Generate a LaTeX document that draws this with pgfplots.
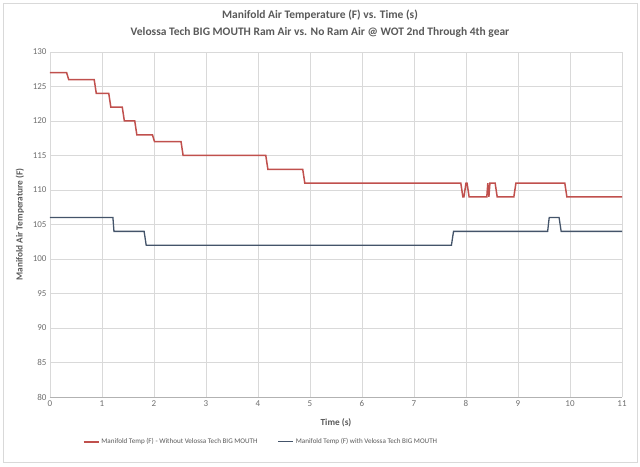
\documentclass[border=0pt]{standalone}
\usepackage{pgfplots}
\pgfplotsset{compat=1.18}
\usepackage{fontspec}
\setmainfont{Carlito}
\definecolor{redl}{RGB}{192,80,77}
\definecolor{bluel}{RGB}{68,84,106}
\definecolor{txt}{RGB}{89,89,89}
\definecolor{ticktxt}{RGB}{110,110,110}
\definecolor{gridc}{RGB}{217,217,217}
\begin{document}
\begin{tikzpicture}
\begin{axis}[
  name=ax,
  scale only axis,
  width=572pt, height=345pt,
  xmin=0, xmax=11, ymin=80, ymax=130,
  xtick={0,1,...,11}, ytick={80,85,...,130},
  grid=major,
  major grid style={draw=gridc, line width=0.6pt},
  axis line style={draw=none},
  major tick length=0pt,
  tick label style={font=\fontsize{9}{10}\selectfont, text=ticktxt},
  /pgf/number format/assume math mode=true,
  xlabel={\textbf{Time (s)}},
  ylabel={\textbf{Manifold Air Temperature (F)}},
  label style={font=\fontsize{9.3}{10}\selectfont, text=txt},
  xlabel style={at={(axis description cs:0.5,0)}, anchor=center, yshift=-26pt},
  ylabel style={at={(axis description cs:0,0.5)}, anchor=center, yshift=30pt},
  legend style={at={(0.369,-0.13)}, anchor=center, draw=none, fill=none,
    legend columns=2, font=\fontsize{7.1}{8}\selectfont, text=txt,
    /tikz/every even column/.append style={column sep=18pt}},
  legend image code/.code={\draw[#1] (0pt,0pt) -- (15pt,0pt);},
]
\addplot[draw=redl, no markers, line width=1.5pt] coordinates {
(0,127)(0.32,127)(0.36,126)(0.85,126)(0.89,124)(1.13,124)(1.17,122)(1.39,122)(1.43,120)(1.63,120)(1.67,118)(1.97,118)(2.01,117)(2.52,117)(2.56,115)(4.15,115)(4.19,113)(4.86,113)(4.90,111)(7.90,111)(7.94,109)(7.96,109)(8.00,111)(8.02,111)(8.06,109)(8.40,109)(8.42,111)(8.44,109)(8.46,111)(8.56,111)(8.60,109)(8.92,109)(8.96,111)(9.90,111)(9.94,109)(11,109)
};
\addlegendentry{Manifold Temp (F) - Without Velossa Tech BIG MOUTH}
\addplot[draw=bluel, no markers, line width=1.3pt] coordinates {
(0,106)(1.21,106)(1.23,104)(1.81,104)(1.85,102)(7.72,102)(7.76,104)(9.57,104)(9.60,106)(9.79,106)(9.83,104)(11,104)
};
\addlegendentry{Manifold Temp (F) with Velossa Tech BIG MOUTH}
\end{axis}
\draw[gray!60, line width=0.6pt] (ax.south west) -- (ax.south east);
\path ([xshift=-50pt,yshift=-70pt]ax.south west) rectangle ([xshift=18pt,yshift=52pt]ax.north east);
\draw[gridc, line width=0.8pt] ([xshift=-47pt,yshift=-65pt]ax.south west) rectangle ([xshift=15pt,yshift=49pt]ax.north east);
\node[font=\bfseries\fontsize{11.5}{12}\selectfont, text=txt] at ([xshift=270pt,yshift=37pt]ax.north west) {Manifold Air Temperature (F) vs. Time (s)};
\node[font=\bfseries\fontsize{11.5}{12}\selectfont, text=txt] at ([xshift=270pt,yshift=20pt]ax.north west) {Velossa Tech BIG MOUTH Ram Air vs. No Ram Air @ WOT 2nd Through 4th gear};
\end{tikzpicture}
\end{document}
